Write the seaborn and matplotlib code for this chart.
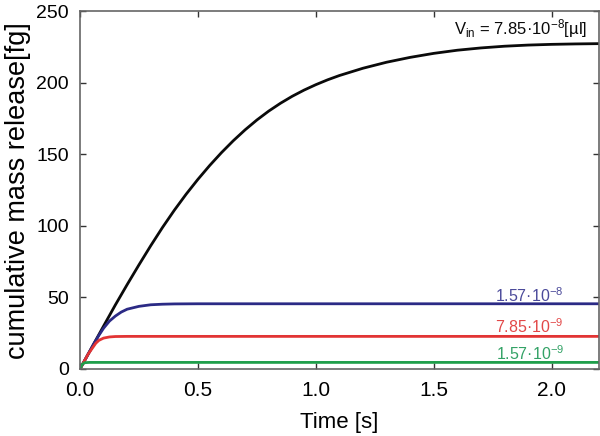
"""Cumulative mass release vs time for four inlet volumes."""

import matplotlib

matplotlib.use("Agg")
import matplotlib.pyplot as plt
import pandas as pd
import seaborn as sns

# values
TIME_78E8 = [0.0, 0.05, 0.1, 0.15, 0.2, 0.25, 0.3, 0.35, 0.4, 0.45, 0.5, 0.55,
             0.6, 0.65, 0.7, 0.75, 0.8, 0.85, 0.9, 0.95, 1.0, 1.05, 1.1, 1.2,
             1.3, 1.4, 1.5, 1.6, 1.7, 1.8, 1.9, 2.0, 2.1, 2.2]
MASS_78E8 = [0.0, 15.0, 30.0, 44.8, 59.0, 72.8, 86.2, 99.0, 111.0, 122.2,
             132.6, 142.3, 151.3, 159.6, 167.2, 174.1, 180.3, 185.8, 190.7,
             195.0, 198.8, 202.2, 205.2, 210.3, 214.5, 217.9, 220.7, 222.9,
             224.5, 225.7, 226.5, 227.0, 227.3, 227.5]

TIME_16E8 = [0.0, 0.03, 0.06, 0.08, 0.1, 0.125, 0.15, 0.175, 0.2, 0.25, 0.3,
             0.35, 0.4, 0.5, 1.0, 1.5, 2.2]
MASS_16E8 = [0.0, 9.0, 18.0, 23.5, 28.5, 33.5, 37.0, 39.8, 41.8, 43.8, 44.9,
             45.3, 45.5, 45.6, 45.6, 45.6, 45.6]

TIME_78E9 = [0.0, 0.02, 0.035, 0.05, 0.067, 0.08, 0.1, 0.125, 0.15, 0.2, 1.0,
             2.2]
MASS_78E9 = [0.0, 6.0, 10.5, 14.0, 18.0, 20.0, 21.6, 22.4, 22.7, 22.8, 22.8,
             22.8]

TIME_16E9 = [0.0, 0.01, 0.02, 0.04, 1.0, 2.2]
MASS_16E9 = [0.0, 3.3, 4.4, 4.6, 4.6, 4.6]

SERIES = ["7.85e-8", "1.57e-8", "7.85e-9", "1.57e-9"]
LINE_COLORS = ["#0a0a0a", "#2b2a85", "#e23434", "#1f9e4a"]
LABEL_COLORS = ["#0a0a0a", "#4b4a9a", "#e24848", "#33a266"]
LABELS = [r"V$_{\rm in}$ = 7.85·10$^{-8}$[µl]", "1.57·10$^{-8}$",
          "7.85·10$^{-9}$", "1.57·10$^{-9}$"]
LABEL_POS = [(2.15, 238.0), (2.052, 51.5), (2.052, 29.5), (2.052, 11.0)]
LABEL_SIZES = [12, 11.5, 11.5, 11.5]


def build_frame() -> pd.DataFrame:
    parts = []
    for name, t, m in zip(SERIES,
                          [TIME_78E8, TIME_16E8, TIME_78E9, TIME_16E9],
                          [MASS_78E8, MASS_16E8, MASS_78E9, MASS_16E9]):
        parts.append(pd.DataFrame({"time": t, "mass": m, "volume": name}))
    return pd.concat(parts, ignore_index=True)


def main() -> None:
    sns.set_theme(style="ticks")
    plt.rcParams["font.family"] = ["Liberation Sans", "DejaVu Sans"]
    plt.rcParams["mathtext.fontset"] = "custom"
    plt.rcParams["mathtext.rm"] = "Liberation Sans"
    plt.rcParams["mathtext.it"] = "Liberation Sans:italic"
    plt.rcParams["text.color"] = "black"
    plt.rcParams["axes.labelcolor"] = "black"
    plt.rcParams["xtick.labelcolor"] = "black"
    plt.rcParams["ytick.labelcolor"] = "black"

    df = build_frame()

    fig = plt.figure(figsize=(6.0, 4.36), dpi=100)
    ax = fig.add_axes([0.1333, 0.1537, 0.8647, 0.82])

    sns.lineplot(data=df, x="time", y="mass", hue="volume", hue_order=SERIES,
                 palette=LINE_COLORS, linewidth=2.0, legend=False, ax=ax,
                 sort=False, estimator=None)

    for text, (x, y), color, size in zip(LABELS, LABEL_POS, LABEL_COLORS,
                                         LABEL_SIZES):
        ax.text(x, y, text, color=color, fontsize=size, ha="right",
                va="center")

    ax.set_xlim(0, 2.2)
    ax.set_ylim(0, 250)
    ax.set_xticks([0.0, 0.5, 1.0, 1.5, 2.0])
    ax.set_xticklabels(["0.0", "0.5", "1.0", "1.5", "2.0"])
    ax.set_yticks([0, 50, 100, 150, 200, 250])
    ax.tick_params(direction="in", length=4, width=1.0, color="#333333",
                   top=True, right=True)
    ax.tick_params(axis="x", labelsize=15, pad=9)
    ax.tick_params(axis="y", labelsize=14, pad=8)
    for spine in ax.spines.values():
        spine.set_visible(True)
        spine.set_color("#666666")
        spine.set_linewidth(1.2)

    ax.set_xlabel("Time [s]", fontsize=16, labelpad=8)
    ax.set_ylabel("cumulative mass release[fg]", fontsize=19.5, labelpad=4)

    fig.savefig("out.png", dpi=100)
    plt.close(fig)


if __name__ == "__main__":
    main()
